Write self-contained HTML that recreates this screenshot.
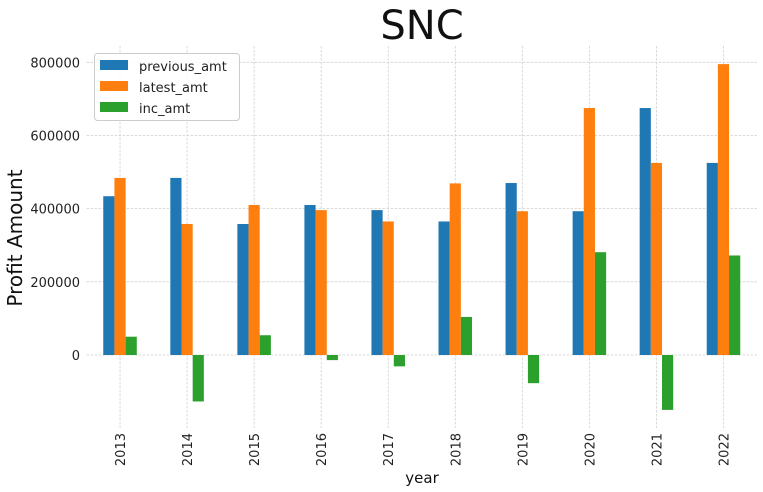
<!DOCTYPE html>
<html><head><meta charset="utf-8"><style>body{margin:0;background:#fff}svg{display:block;font-family:"DejaVu Sans","Liberation Sans",sans-serif}</style></head>
<body>
<svg id="c" width="763" height="492"></svg>
<script>
const years=["2013","2014","2015","2016","2017","2018","2019","2020","2021","2022"];
const previousAmt=[434000,484000,358000,410000,396000,365000,470000,393000,675000,525000];
const latestAmt=[484000,358000,410000,396000,365000,469000,393000,675000,525000,795000];
const incAmt=[50000,-127000,54000,-14000,-31000,104000,-77000,281000,-150000,272000];
const yTicks=[0,200000,400000,600000,800000];
const seriesNames=["previous_amt","latest_amt","inc_amt"];
const colors=["#1f77b4","#ff7f0e","#2ca02c"];
const NS="http://www.w3.org/2000/svg";
const svg=document.getElementById('c');
const L=86.5,R=757,T=46,B=428;
const y0=355,pxPer=292.7/800000;
const Y=v=>y0-v*pxPer;
const step=(R-L)/years.length;
const X=i=>L+step*(i+0.5);
function mk(t,a,p){const e=document.createElementNS(NS,t);for(const k in a)e.setAttribute(k,a[k]);(p||svg).appendChild(e);return e;}
const grid=mk('g',{});


yTicks.forEach(v=>{
 mk('line',{x1:L,x2:R,y1:Y(v),y2:Y(v),stroke:'#cfcfcf','stroke-width':0.8,'stroke-dasharray':'2.5,1.5'},grid);
 const t=mk('text',{x:80,y:Y(v)+5,'text-anchor':'end','font-size':13,fill:'#222'});
 t.textContent=v;
 
 
});
years.forEach((yr,i)=>{
 mk('line',{x1:X(i),x2:X(i),y1:T,y2:B,stroke:'#cfcfcf','stroke-width':0.8,'stroke-dasharray':'2.5,1.5'},grid);
 const t=mk('text',{x:0,y:0,'text-anchor':'end','font-size':13,fill:'#222',transform:`translate(${X(i)+5},${433}) rotate(-90)`});
 t.textContent=yr;
 
 
});
const data=[previousAmt,latestAmt,incAmt];
const bw=step*0.5/3;
data.forEach((s,si)=>{
 s.forEach((v,i)=>{
  const x=X(i)-step*0.25+si*bw;
  const r=mk('rect',{x:x,y:Math.min(Y(v),Y(0)),width:bw,height:Math.abs(Y(v)-Y(0)),fill:colors[si]});
  
  
 });
});
const title=mk('text',{x:422,y:39,'text-anchor':'middle','font-size':40,fill:'#111'});
title.textContent='SNC';


const yl=mk('text',{x:0,y:0,'text-anchor':'middle','font-size':20,fill:'#111',transform:'translate(22,238) rotate(-90)'});
yl.textContent='Profit Amount';


const xl=mk('text',{x:422,y:483,'text-anchor':'middle','font-size':15,fill:'#111'});
xl.textContent='year';


const lg=mk('g',{});


mk('rect',{x:94.5,y:53.5,width:145,height:67,rx:3,fill:'#fff','fill-opacity':0.85,stroke:'#ccc'},lg);
seriesNames.forEach((n,i)=>{
 const sw=mk('rect',{x:100,y:60+i*21,width:28,height:10,fill:colors[i]},lg);
 
 
 const t=mk('text',{x:139,y:71+i*21,'font-size':13,fill:'#222'},lg);
 t.textContent=n;
 
 
});
</script>
</body></html>
